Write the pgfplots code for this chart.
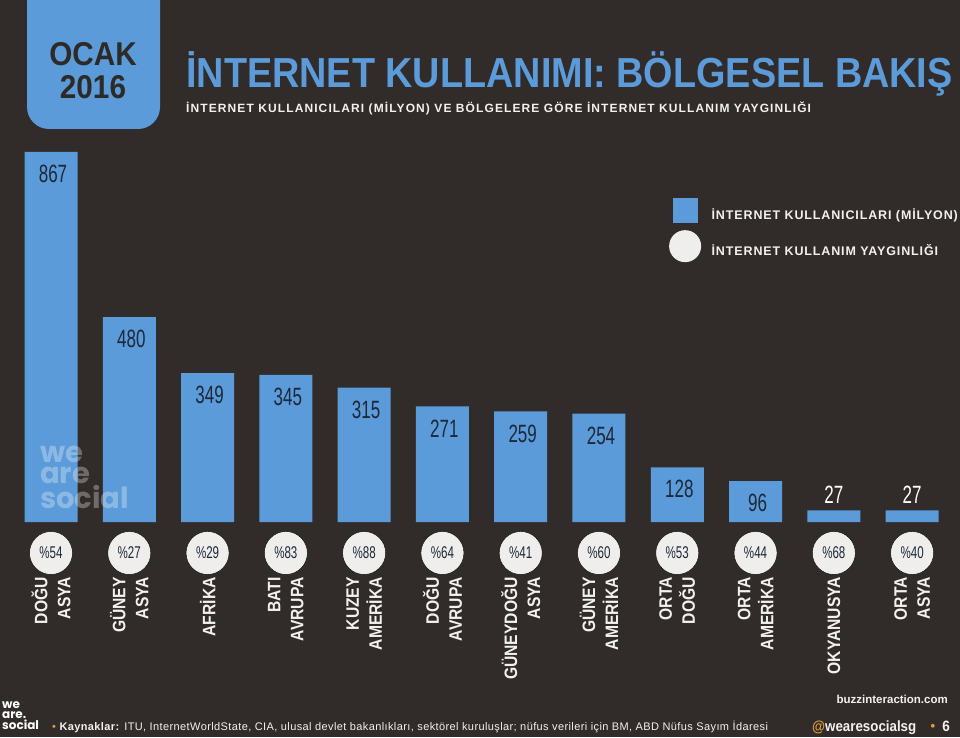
\documentclass[border=0pt]{standalone}
\usepackage{fontspec}
\usepackage{pgfplots}
\pgfplotsset{compat=1.18}
\usepackage{pgfplotstable}
\setmainfont{Liberation Sans}
\newfontfamily\headfont[FakeStretch=0.9]{Liberation Sans}
\newfontfamily\condfont[FakeStretch=0.68]{Liberation Sans}
\newfontfamily\catfont[FakeStretch=0.87]{Liberation Sans}
\newfontfamily\spacedfont[LetterSpace=7]{Liberation Sans}
\newfontfamily\subfont[LetterSpace=9.2]{Liberation Sans}
\newfontfamily\footfont[LetterSpace=3.6]{Liberation Sans}
\newfontfamily\logofont{Poppins}
\definecolor{bg}{HTML}{312C2A}
\definecolor{barblue}{HTML}{5B9BD9}
\definecolor{navy}{HTML}{1D2838}
\definecolor{circ}{HTML}{EFEEEC}
\definecolor{orangec}{HTML}{E39B3A}
\definecolor{hdr}{HTML}{2E2A28}
\definecolor{lighttext}{HTML}{F2F1EF}

\pgfplotstableread{
x users lab pct cy
0 867 867 54 -72.6
1 480 480 27 -72.6
2 349 349 29 -72.6
3 345 345 83 -72.6
4 315 315 88 -72.6
5 271 271 64 -72.6
6 259 259 41 -72.6
7 254 254 60 -72.6
8 128 128 53 -72.6
9 96 96 44 -72.6
10 27 {} 68 -72.6
11 27 {} 40 -72.6
}\datatable

\begin{document}
\begin{tikzpicture}
\path[use as bounding box] (0,0) rectangle (960pt,737pt);
\fill[bg] (0,0) rectangle (960pt,737pt);
% header box
\begin{scope}
\clip (0,0) rectangle (960pt,737pt);
\fill[barblue, rounded corners=22pt] (27pt,608pt) rectangle (160pt,780pt);
\end{scope}
\node[anchor=base, inner sep=0pt, text=hdr, font=\headfont\bfseries\fontsize{33}{33}\selectfont] at (93pt,671pt) {OCAK};
\node[anchor=base, inner sep=0pt, text=hdr, font=\headfont\bfseries\fontsize{33}{33}\selectfont] at (93pt,638pt) {2016};
\node[anchor=base west, inner sep=0pt, text=barblue, font=\headfont\bfseries\fontsize{42}{42}\selectfont] at (186pt,649pt) {İNTERNET KULLANIMI: BÖLGESEL BAKIŞ};
\node[anchor=base west, inner sep=0pt, text=lighttext, font=\subfont\bfseries\fontsize{12}{12}\selectfont] at (186pt,624pt) {İNTERNET KULLANICILARI (MİLYON) VE BÖLGELERE GÖRE İNTERNET KULLANIM YAYGINLIĞI};

\begin{axis}[
  at={(11.86pt,215pt)}, anchor=south west,
  scale only axis, width=939.4pt, height=384.1pt,
  xmin=-0.5, xmax=11.5, ymin=0, ymax=900,
  clip=false,
  axis line style={draw=none}, tick style={draw=none},
  ytick=\empty,
  xtick={0,...,11},
  xticklabels={{DOĞU\\ASYA},{GÜNEY\\ASYA},{AFRİKA},{BATI\\AVRUPA},{KUZEY\\AMERİKA},{DOĞU\\AVRUPA},{GÜNEYDOĞU\\ASYA},{GÜNEY\\AMERİKA},{ORTA\\DOĞU},{ORTA\\AMERİKA},{OKYANUSYA},{ORTA\\ASYA}},
  xticklabel shift=55pt,
  xticklabel style={rotate=90, anchor=east, align=right, inner sep=0pt, text=lighttext, font=\catfont\bfseries\fontsize{18}{23}\selectfont},
  legend style={at={(axis cs:7.896,767)}, anchor=north west, draw=none, fill=none, inner sep=0pt, outer sep=0pt, text=lighttext, font=\spacedfont\bfseries\fontsize{12.5}{12.5}\selectfont, row sep=3.5pt, column sep=8.5pt},
  legend cell align=left,
]
\addplot[ybar, bar width=53pt, bar shift=0pt, fill=barblue, draw=none,
  point meta=explicit symbolic,
  nodes near coords={\pgfplotspointmeta},
  nodes near coords align=center,
  every node near coord/.append style={yshift=-22pt, xshift=2pt, text=navy, font=\condfont\fontsize{25}{25}\selectfont},
  legend image code/.code={\path[draw=none,fill=none] (-3.5pt,-11.5pt) rectangle (28.5pt,20.5pt); \fill[barblue, draw=none] (0pt,-8pt) rectangle (25pt,17pt);}
] table[x=x, y=users, meta=lab] {\datatable};
\addlegendentry{İNTERNET KULLANICILARI (MİLYON)}
\addplot[ybar, bar width=53pt, bar shift=0pt, draw=none, fill=none, forget plot,
  point meta=explicit symbolic,
  nodes near coords={\pgfplotspointmeta},
  every node near coord/.append style={yshift=3pt, text=white, font=\condfont\fontsize{25}{25}\selectfont}
] coordinates {(10,27) [27] (11,27) [27]};
\addplot[only marks, mark=*, mark size=21.5pt, mark options={fill=circ, draw=none},
  point meta=explicit symbolic,
  nodes near coords={\%\pgfplotspointmeta},
  nodes near coords align=center,
  every node near coord/.append style={text=navy, font=\condfont\fontsize{17}{17}\selectfont},
  legend image code/.code={\path[draw=none,fill=none] (-3.5pt,-11.5pt) rectangle (28.5pt,20.5pt); \fill[circ, draw=none] (12.5pt,4.5pt) circle (16pt);}
] table[x=x, y=cy, meta=pct] {\datatable};
\addlegendentry{İNTERNET KULLANIM YAYGINLIĞI}
\end{axis}

% watermark
\node[anchor=north west, inner sep=0pt, text=white, opacity=0.3, align=left, font=\logofont\bfseries\fontsize{29}{21}\selectfont] at (40pt,291pt) {we\\are\\social};

% footer
\node[anchor=north west, inner sep=0pt, text=white, align=left, font=\logofont\bfseries\fontsize{12}{9.5}\selectfont] at (2pt,35pt) {we\\are.\\social};
\node[anchor=base west, inner sep=0pt, text=lighttext, font=\footfont\fontsize{11}{11}\selectfont] at (52pt,7pt) {\textcolor{orangec}{•} \textbf{Kaynaklar:} ITU, InternetWorldState, CIA, ulusal devlet bakanlıkları, sektörel kuruluşlar; nüfus verileri için BM, ABD Nüfus Sayım İdaresi};
\node[anchor=base east, inner sep=0pt, text=lighttext, font=\bfseries\fontsize{11.5}{11.5}\selectfont] at (948pt,34pt) {buzzinteraction.com};
\node[anchor=base west, inner sep=0pt, text=lighttext, font=\headfont\bfseries\fontsize{14.8}{14.8}\selectfont] at (812pt,6pt) {\textcolor{orangec}{@}wearesocialsg};
\node[anchor=base, inner sep=0pt, text=orangec, font=\bfseries\fontsize{13}{13}\selectfont] at (933pt,7pt) {•};
\node[anchor=base, inner sep=0pt, text=lighttext, font=\headfont\bfseries\fontsize{15}{15}\selectfont] at (946pt,6pt) {6};
\end{tikzpicture}
\end{document}
